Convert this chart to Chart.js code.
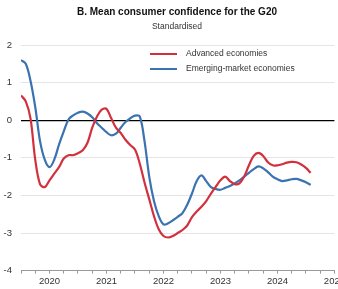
<!DOCTYPE html>
<html>
<head>
<meta charset="UTF-8">
<title>Mean consumer confidence for the G20</title>
<script src="https://cdn.jsdelivr.net/npm/chart.js@4.4.1/dist/chart.umd.min.js"></script>
<style>
  * { margin: 0; padding: 0; box-sizing: border-box; }
  html, body { width: 338px; height: 289px; overflow: hidden; background: #fff; font-family: "Liberation Sans", Arial, sans-serif; }
  .wrap { position: relative; width: 347px; height: 289px; }
  .title { position: absolute; left: 21px; width: 312px; top: 6px; text-align: center; font-size: 10px; font-weight: bold; color: #111; }
  .subtitle { position: absolute; left: 21px; width: 312px; top: 21px; text-align: center; font-size: 8.5px; color: #333; }
  .legend { position: absolute; left: 150px; top: 46px; font-size: 8.5px; color: #333; background: #fff; }
  .legend div { height: 15px; line-height: 15px; white-space: nowrap; }
  .legend span { display: inline-block; width: 27px; height: 2.5px; vertical-align: middle; margin-right: 9px; }
</style>
</head>
<body>
<div class="wrap">
  <canvas id="chart" width="347" height="289"></canvas>
  <div class="title">B. Mean consumer confidence for the G20</div>
  <div class="subtitle">Standardised</div>
  <div class="legend">
    <div><span style="background:#d1313d"></span>Advanced economies</div>
    <div><span style="background:#3b73b1"></span>Emerging-market economies</div>
  </div>
</div>
<script>
  // monthly, Jan 2020 .. Feb 2025
  const advanced = [
    0.66, 0.5, 0.05, -1.05, -1.7, -1.78, -1.6, -1.42, -1.25, -1.02, -0.93, -0.93,
    -0.88, -0.8, -0.6, -0.2, 0.1, 0.28, 0.3, 0.05, -0.2, -0.34, -0.52, -0.66,
    -0.78, -1.15, -1.65, -2.1, -2.55, -2.9, -3.08, -3.12, -3.08, -3.0, -2.92, -2.8,
    -2.58, -2.43, -2.3, -2.15, -1.95, -1.77, -1.6, -1.5, -1.62, -1.7, -1.68, -1.5,
    -1.2, -0.95, -0.87, -0.95, -1.12, -1.2, -1.2, -1.17, -1.13, -1.11, -1.12, -1.18,
    -1.27, -1.4
  ];
  const emerging = [
    1.6, 1.5, 1.05, 0.35, -0.55, -1.05, -1.25, -1.05, -0.65, -0.3, 0.02, 0.13,
    0.2, 0.23, 0.18, 0.08, -0.08, -0.2, -0.32, -0.4, -0.36, -0.2, -0.05, 0.05,
    0.12, 0.1, -0.55, -1.5, -2.15, -2.55, -2.77, -2.74, -2.66, -2.57, -2.47, -2.25,
    -1.95, -1.62, -1.47, -1.62, -1.78, -1.83, -1.85, -1.8, -1.75, -1.68, -1.6, -1.5,
    -1.4, -1.3, -1.23, -1.28, -1.38, -1.5, -1.57, -1.62, -1.6, -1.57, -1.56, -1.6,
    -1.65, -1.72
  ];
  const years = [2020, 2021, 2022, 2023, 2024, 2025];
  const yTicks = [2, 1, 0, -1, -2, -3, -4];
  const monthsShown = 66;

  const toPoints = arr => arr.map((v, i) => ({ x: i, y: v }));

  new Chart(document.getElementById('chart'), {
    type: 'line',
    data: {
      datasets: [{
        label: 'Advanced economies',
        data: toPoints(advanced),
        borderColor: '#d1313d',
        borderWidth: 2.2,
        pointRadius: 0,
        tension: 0.35,
      }, {
        label: 'Emerging-market economies',
        data: toPoints(emerging),
        borderColor: '#3b73b1',
        borderWidth: 2.2,
        pointRadius: 0,
        tension: 0.35,
      }]
    },
    options: {
      responsive: false,
      animation: false,
      layout: { padding: { top: 45, left: 0, right: 0, bottom: 0 } },
      plugins: { legend: { display: false }, tooltip: { enabled: false } },
      scales: {
        x: {
          type: 'linear',
          min: 0,
          max: monthsShown,
          afterBuildTicks: axis => {
            const t = [];
            for (let m = 0; m <= monthsShown; m += 3) t.push({ value: m });
            axis.ticks = t;
          },
          ticks: {
            autoSkip: false,
            maxRotation: 0,
            padding: 2,
            color: '#333',
            font: { family: 'Liberation Sans', size: 9.5 },
            callback: v => ((v - 6) % 12 === 0 ? String(years[(v - 6) / 12]) : ''),
          },
          grid: { drawOnChartArea: false, tickLength: 3, color: '#999' },
          border: { display: true, color: '#999', width: 1 },
        },
        y: {
          min: -4,
          max: 2,
          afterBuildTicks: axis => { axis.ticks = yTicks.map(v => ({ value: v })); },
          afterFit: axis => { axis.width = 21; },
          ticks: {
            padding: 9,
            color: '#333',
            font: { family: 'Liberation Sans', size: 9.5 },
          },
          grid: {
            drawTicks: false,
            color: ctx => (ctx.tick && ctx.tick.value === 0 ? '#000' : '#e4e4e4'),
            lineWidth: ctx => (ctx.tick && ctx.tick.value === 0 ? 1.2 : 1),
          },
          border: { display: false },
        }
      }
    }
  });
</script>
</body>
</html>
